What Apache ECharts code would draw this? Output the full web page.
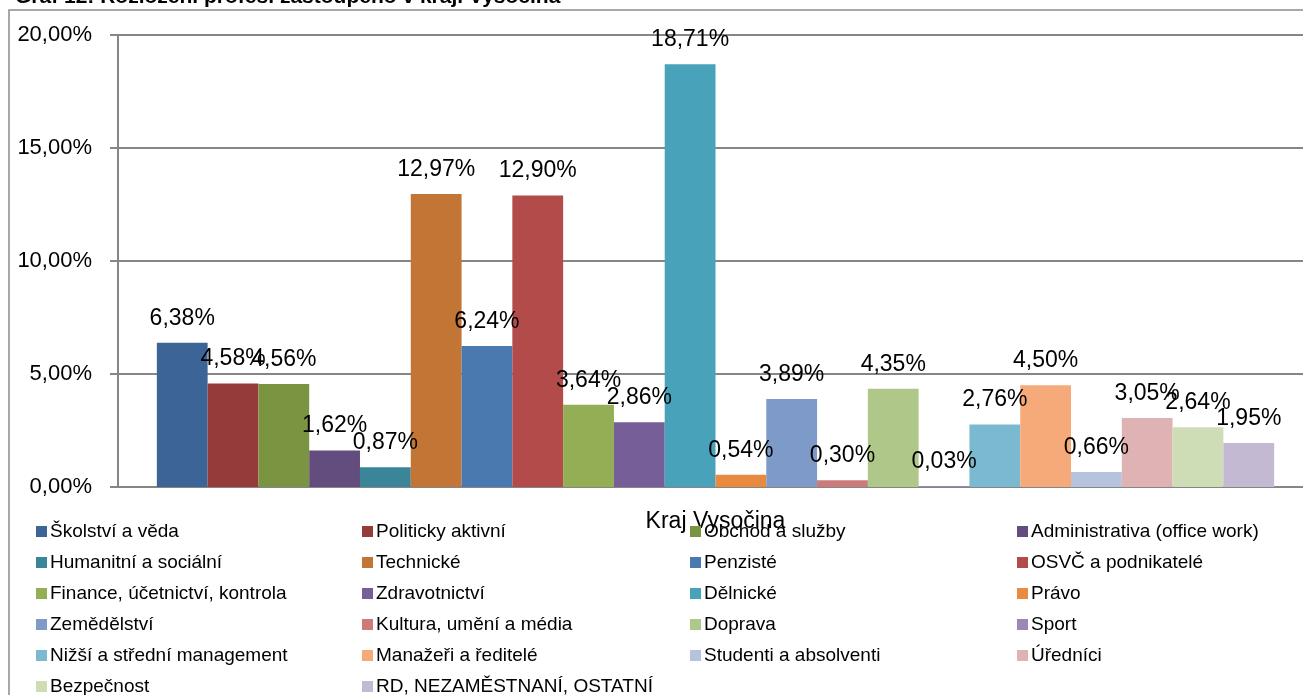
<!DOCTYPE html>
<html>
<head>
<meta charset="utf-8">
<script src="https://cdn.jsdelivr.net/npm/echarts@6/dist/echarts.min.js"></script>
<style>
html,body{margin:0;padding:0;background:#fff;overflow:hidden;width:1303px;height:695px;}
#chart{width:1330px;height:695px;}
</style>
</head>
<body>
<div id="chart"></div>
<script>
// ---- data ----
const titleText = 'Graf 12: Rozložení profesí zastoupeno v kraji Vysočina';
const categories = ['Kraj Vysočina'];
const seriesNames = [
  'Školství a věda', 'Politicky aktivní', 'Obchod a služby', 'Administrativa (office work)',
  'Humanitní a sociální', 'Technické', 'Penzisté', 'OSVČ a podnikatelé',
  'Finance, účetnictví, kontrola', 'Zdravotnictví', 'Dělnické', 'Právo',
  'Zemědělství', 'Kultura, umění a média', 'Doprava', 'Sport',
  'Nižší a střední management', 'Manažeři a ředitelé', 'Studenti a absolventi', 'Úředníci',
  'Bezpečnost', 'RD, NEZAMĚSTNANÍ, OSTATNÍ'
];
const seriesValues = [
  6.38, 4.58, 4.56, 1.62,
  0.87, 12.97, 6.24, 12.90,
  3.64, 2.86, 18.71, 0.54,
  3.89, 0.30, 4.35, 0.03,
  2.76, 4.50, 0.66, 3.05,
  2.64, 1.95
];
const seriesColors = [
  '#3D6496', '#953B39', '#7A9442', '#634D7E',
  '#3A8597', '#C37535', '#4A79B0', '#B24B49',
  '#93AE55', '#765E99', '#48A2BA', '#E88B40',
  '#7D9AC8', '#CB7B79', '#AFC788', '#9C88B5',
  '#7AB9CF', '#F7AA79', '#B5C3DF', '#DFB3B3',
  '#CFDDB7', '#C3B9D3'
];
const yTicks = { min: 0, max: 20, interval: 5 };

// ---- chart ----
const fmt = v => v.toFixed(2).replace('.', ',') + '%';
const FONT = 'Liberation Sans';
const chart = echarts.init(document.getElementById('chart'), null, { renderer: 'canvas' });

const series = seriesNames.map((name, i) => ({
  name: name,
  type: 'bar',
  data: [seriesValues[i]],
  itemStyle: { color: seriesColors[i] },
  barGap: '0%',
  barCategoryGap: '6.5%',
  label: {
    show: true,
    position: 'top',
    distance: 13,
    formatter: p => fmt(p.value),
    fontFamily: FONT,
    fontSize: 23,
    color: '#000'
  }
}));

const legendLefts = [36, 362, 690, 1017];
const ROW_H = 31;
const LEG_TOP = 522;
const legendBase = {
  orient: 'vertical',
  padding: 0,
  itemGap: 12,
  itemWidth: 11,
  itemHeight: 11,
  icon: 'rect',
  selectedMode: false,
  height: 200,
  textStyle: { fontFamily: FONT, fontSize: 19, color: '#000', padding: [0, 0, 0, -2] }
};
const legends = [];
legendLefts.forEach((left, c) => {
  const names = seriesNames.filter((_, i) => i % 4 === c);
  legends.push(Object.assign({}, legendBase, { left: left, top: LEG_TOP, data: names.slice(0, 5) }));
  if (names.length > 5) {
    legends.push(Object.assign({}, legendBase, { left: left, top: LEG_TOP + 5 * ROW_H, data: names.slice(5) }));
  }
});

chart.setOption({
  animation: false,
  backgroundColor: '#fff',
  textStyle: { fontFamily: FONT },
  grid: { left: 118, top: 35, width: 1195, bottom: 208, containLabel: false },
  xAxis: {
    type: 'category',
    data: categories,
    axisLine: { show: true, lineStyle: { color: '#868686', width: 2 } },
    axisTick: { show: false },
    axisLabel: { margin: 23, fontFamily: FONT, fontSize: 23, color: '#000' },
    splitLine: { show: false }
  },
  yAxis: {
    type: 'value',
    min: yTicks.min,
    max: yTicks.max,
    interval: yTicks.interval,
    axisLine: { show: true, lineStyle: { color: '#868686', width: 2 } },
    axisTick: { show: true, length: 8, lineStyle: { color: '#868686', width: 2 } },
    axisLabel: { margin: 26, fontFamily: FONT, fontSize: 22, color: '#000', formatter: v => fmt(v) },
    splitLine: { show: true, lineStyle: { color: '#868686', width: 2 } }
  },
  legend: legends,
  graphic: [
    {
      type: 'rect',
      silent: true,
      shape: { x: 9, y: 10, width: 1400, height: 800 },
      style: { fill: 'none', stroke: '#8c8c8c', lineWidth: 1.5 }
    },
    {
      type: 'text',
      silent: true,
      left: 15,
      top: -13,
      style: { text: titleText, fontFamily: FONT, fontWeight: 'bold', fontSize: 21, fill: '#000' }
    }
  ],
  series: series
});
</script>
</body>
</html>
